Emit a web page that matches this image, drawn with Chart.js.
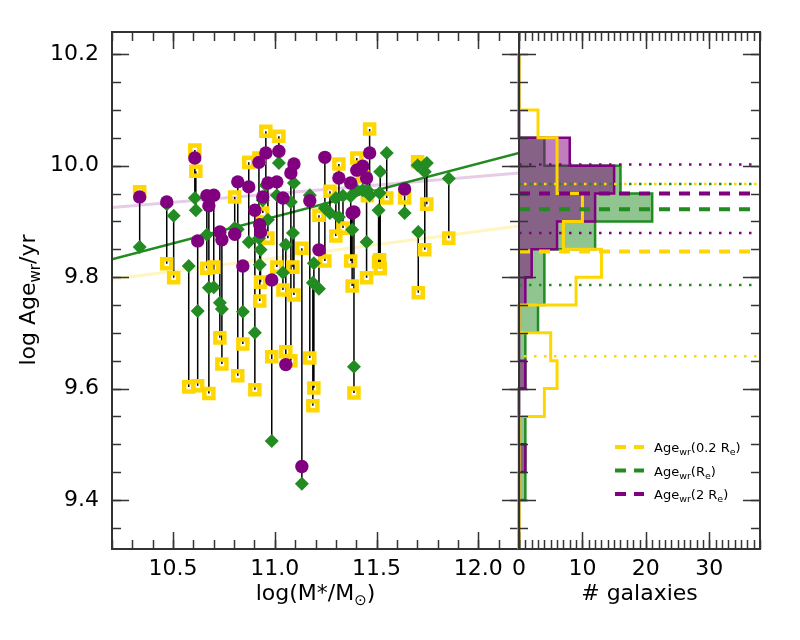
<!DOCTYPE html>
<html>
<head>
<meta charset="utf-8">
<script src="https://cdn.jsdelivr.net/npm/chart.js@4.4.0/dist/chart.umd.min.js"></script>
<style>
  body { margin: 0; background: #fff; }
  #wrap { position: relative; width: 800px; height: 640px; }
  #wrap canvas { position: absolute; left: 0; top: 0; }
</style>
</head>
<body>
<div id="wrap">
  <canvas id="massChart" width="800" height="640"></canvas>
  <canvas id="histChart" width="800" height="640"></canvas>
</div>
<script>
// ---- data ----
// one entry per galaxy: stellar mass and light-weighted age at 0.2 Re, Re and 2 Re
const galaxyMass = [10.336, 10.469, 10.503, 10.577, 10.607, 10.612, 10.621, 10.666, 10.676, 10.700,
  10.730, 10.740, 10.803, 10.818, 10.843, 10.872, 10.902, 10.922, 10.926, 10.930,
  10.941, 10.956, 10.966, 10.985, 11.010, 11.020, 11.040, 11.054, 11.079, 11.089,
  11.094, 11.133, 11.172, 11.187, 11.192, 11.217, 11.246, 11.271, 11.300, 11.315,
  11.335, 11.373, 11.389, 11.380, 11.403, 11.432, 11.451, 11.455, 11.466, 11.510,
  11.515, 11.518, 11.550, 11.638, 11.702, 11.705, 11.737, 11.747, 11.855];
const ageInner = [9.953, 9.824, 9.799, 9.603, 10.028, 9.990, 9.605, 9.816, 9.591, 9.818,
  9.691, 9.644, 9.944, 9.623, 9.680, 10.006, 9.598, 10.014, 9.757, 9.791,
  9.915, 10.062, 9.870, 9.657, 9.818, 10.053, 9.777, 9.666, 9.650, 9.818,
  9.768, 9.852, 9.655, 9.569, 9.601, 9.911, 9.829, 9.954, 9.874, 10.003,
  9.888, 9.829, 9.592, 9.784, 10.014, 9.980, 9.799, 9.946, 10.066, 9.827,
  9.831, 9.815, 9.942, 9.942, 10.007, 9.772, 9.849, 9.931, 9.870];
const ageRe = [9.854, 9.931, 9.910, 9.820, 9.942, 9.920, 9.739, 9.876, 9.781, 9.782,
  9.754, 9.743, 9.888, 9.886, 9.738, 9.863, 9.700, 9.870, 9.822, 9.849,
  9.938, 9.965, 9.903, 9.506, 9.947, 10.005, 9.808, 9.858, 9.935, 9.879,
  9.969, 9.429, 9.947, 9.790, 9.825, 9.779, 9.924, 9.915, 9.942, 9.908,
  9.946, 9.945, 9.639, 9.885, 9.956, 9.956, 9.863, 9.956, 9.947, 9.920,
  9.951, 9.989, 10.023, 9.915, 10.001, 9.881, 9.989, 10.005, 9.977];
const ageOuter = [9.944, 9.935, null, null, 10.014, null, 9.865, 9.946, 9.928, 9.947,
  9.881, 9.867, 9.877, 9.971, 9.820, 9.962, 9.920, 10.006, 9.894, 9.881,
  9.944, 10.023, 9.969, 9.795, 9.971, 10.026, 9.942, 9.643, 9.987, null,
  10.003, 9.460, 9.937, null, null, 9.849, 10.015, null, null, 9.978,
  null, 9.969, 9.917, 9.915, 9.992, 9.999, 9.978, null, 10.023, null,
  null, null, null, 9.958, null, null, null, null, null];

// linear fits (age vs mass), evaluated at the panel edges
const fitMass = [10.2, 12.2];
const fitInner = [9.796, 9.892];
const fitRe = [9.832, 10.023];
const fitOuter = [9.925, 9.987];

// age histograms (bins of 0.05 dex, bottom to top)
const binEdges = [9.30, 9.35, 9.40, 9.45, 9.50, 9.55, 9.60, 9.65, 9.70, 9.75,
  9.80, 9.85, 9.90, 9.95, 10.00, 10.05, 10.10, 10.15, 10.20];
const countsInner = [0, 0, 0, 0, 0, 4, 6, 5, 0, 9, 13, 7, 10, 6, 6, 3, 0, 0];
const countsRe =    [0, 0, 1, 1, 1, 0, 1, 1, 3, 4, 4, 12, 21, 16, 4, 0, 0, 0];
const countsOuter = [0, 0, 0, 1, 0, 0, 1, 0, 0, 1, 2, 6, 12, 15, 8, 0, 0, 0];

// central value (dashed) and lower / upper spread (dotted) for 0.2 Re, Re, 2 Re
const centralAge = [9.846, 9.922, 9.950];
const lowerAge = [9.658, 9.786, 9.879];
const upperAge = [9.967, 9.967, 10.002];

const massTicks = [10.5, 11.0, 11.5, 12.0];
const ageTicks = [9.4, 9.6, 9.8, 10.0, 10.2];
const countTicks = [0, 10, 20, 30];
const radiusLabels = ['0.2 ', '', '2 '];

// ---- styling ----
const FONT = '"DejaVu Sans", sans-serif';
const GOLD = '#FFD700';
const GREEN = '#228B22';
const PURPLE = '#800080';
const seriesColors = [GOLD, GREEN, PURPLE];
const AGE_MIN = 9.312, AGE_MAX = 10.24;
const COUNT_MAX = 38;

Chart.defaults.font.family = FONT;

function drawRich(ctx, parts, x, y, size, subSize, subDrop, align) {
    let w = 0;
    parts.forEach(([t, sub]) => {
        ctx.font = (sub ? subSize : size) + 'px ' + FONT;
        w += ctx.measureText(t).width;
    });
    let cx = align === 'center' ? x - w / 2 : x;
    ctx.textAlign = 'left';
    ctx.textBaseline = 'alphabetic';
    parts.forEach(([t, sub]) => {
        ctx.font = (sub ? subSize : size) + 'px ' + FONT;
        ctx.fillText(t, cx, y + (sub ? subDrop : 0));
        cx += ctx.measureText(t).width;
    });
}

// frame with inward ticks on all four sides
const framePlugin = {
    id: 'frame',
    afterDraw(chart, args, opts) {
        const { ctx, chartArea: a, scales: { x, y } } = chart;
        ctx.save();
        ctx.strokeStyle = '#333';
        ctx.lineWidth = 1.5;
        const seg = (x1, y1, x2, y2) => { ctx.beginPath(); ctx.moveTo(x1, y1); ctx.lineTo(x2, y2); ctx.stroke(); };
        const xTick = (v, len) => {
            const p = Math.round(x.getPixelForValue(v)) + 0.5;
            seg(p, a.bottom, p, a.bottom - len);
            seg(p, a.top, p, a.top + len);
        };
        const yTick = (v, len) => {
            const p = Math.round(y.getPixelForValue(v)) + 0.5;
            seg(a.left, p, a.left + len, p);
            seg(a.right, p, a.right - len, p);
        };
        for (let i = Math.ceil(x.min / opts.xMinor - 1e-6); i * opts.xMinor <= x.max + 1e-9; i++) xTick(i * opts.xMinor, 9);
        for (let i = Math.ceil(y.min / opts.yMinor - 1e-6); i * opts.yMinor <= y.max + 1e-9; i++) yTick(i * opts.yMinor, 9);
        opts.xMajor.forEach(v => xTick(v, 17));
        opts.yMajor.forEach(v => yTick(v, 17));
        ctx.lineWidth = 2;
        ctx.strokeRect(a.left, a.top, a.right - a.left, a.bottom - a.top);
        ctx.restore();
    }
};

const massTitles = {
    id: 'massTitles',
    afterDraw(chart) {
        const { ctx, chartArea: a } = chart;
        ctx.save();
        ctx.fillStyle = '#000';
        drawRich(ctx, [['log(M*/M', false], ['\u2299', true], [')', false]], (a.left + a.right) / 2, 600, 22, 15, 5, 'center');
        ctx.translate(35, 300);
        ctx.rotate(-Math.PI / 2);
        drawRich(ctx, [['log Age', false], ['wr', true], ['/yr', false]], 0, 0, 22, 15, 5, 'center');
        ctx.restore();
    }
};

const histTitles = {
    id: 'histTitles',
    afterDraw(chart) {
        const { ctx, chartArea: a } = chart;
        ctx.save();
        ctx.fillStyle = '#000';
        drawRich(ctx, [['# galaxies', false]], (a.left + a.right) / 2, 600, 22, 15, 5, 'center');
        // legend
        radiusLabels.forEach((r, i) => {
            const rowY = 447 + i * 23.5;
            ctx.strokeStyle = seriesColors[i];
            ctx.lineWidth = 4;
            ctx.setLineDash([11, 8]);
            ctx.beginPath();
            ctx.moveTo(615, rowY);
            ctx.lineTo(644, rowY);
            ctx.stroke();
            ctx.setLineDash([]);
            drawRich(ctx, [['Age', false], ['wr', true], ['(' + r + 'R', false], ['e', true], [')', false]],
                654, rowY + 5, 13, 9.5, 3, 'left');
        });
        ctx.restore();
    }
};

// ---- left panel: age vs mass ----
const pts = ages => galaxyMass.map((m, i) => ({ x: m, y: ages[i] }));
const connectorPoints = [];
galaxyMass.forEach((m, i) => {
    const vals = [ageInner[i], ageRe[i], ageOuter[i]].filter(v => v !== null);
    connectorPoints.push({ x: m, y: Math.min(...vals) }, { x: m, y: Math.max(...vals) }, { x: m, y: null });
});
const fitLine = fit => fitMass.map((m, i) => ({ x: m, y: fit[i] }));

const tickFont = { family: FONT, size: 22 };

new Chart(document.getElementById('massChart'), {
    type: 'scatter',
    data: {
        datasets: [
            { data: pts(ageOuter), pointStyle: 'circle', pointRadius: 6.7, backgroundColor: PURPLE, borderWidth: 0, order: 1 },
            { data: pts(ageRe), pointStyle: 'rectRot', pointRadius: 7, backgroundColor: GREEN, borderWidth: 0, order: 2 },
            { data: pts(ageInner), pointStyle: 'rect', pointRadius: 6.4, backgroundColor: 'rgba(0,0,0,0)', borderColor: GOLD, borderWidth: 4.5, order: 3 },
            { data: connectorPoints, showLine: true, spanGaps: false, borderColor: '#000', borderWidth: 1.5, pointRadius: 0, order: 4 },
            { data: fitLine(fitRe), showLine: true, borderColor: GREEN, borderWidth: 2.5, pointRadius: 0, order: 5 },
            { data: fitLine(fitOuter), showLine: true, borderColor: 'rgba(128,0,128,0.2)', borderWidth: 3, pointRadius: 0, order: 6 },
            { data: fitLine(fitInner), showLine: true, borderColor: 'rgba(255,215,0,0.25)', borderWidth: 3, pointRadius: 0, order: 7 }
        ]
    },
    options: {
        responsive: false,
        animation: false,
        devicePixelRatio: 1,
        layout: { padding: { left: 0, right: 281, top: 32, bottom: 0 } },
        plugins: {
            legend: { display: false },
            tooltip: { enabled: false },
            frame: { xMajor: massTicks, xMinor: 0.1, yMajor: ageTicks, yMinor: 0.05 }
        },
        scales: {
            x: {
                type: 'linear', min: 10.2, max: 12.2,
                grid: { display: false, drawTicks: false }, border: { display: false },
                afterBuildTicks: s => { s.ticks = massTicks.map(v => ({ value: v })); },
                afterFit: s => { s.height = 91; },
                ticks: { font: tickFont, color: '#000', padding: 7, maxRotation: 0, autoSkip: false, callback: v => v.toFixed(1) }
            },
            y: {
                type: 'linear', min: AGE_MIN, max: AGE_MAX,
                grid: { display: false, drawTicks: false }, border: { display: false },
                afterBuildTicks: s => { s.ticks = ageTicks.map(v => ({ value: v })); },
                afterFit: s => { s.width = 112; },
                ticks: { font: tickFont, color: '#000', padding: 13, autoSkip: false, callback: v => v.toFixed(1) }
            }
        }
    },
    plugins: [framePlugin, massTitles]
});

// ---- right panel: age histograms ----
function stepShape(counts) {
    const shape = [{ x: 0, y: binEdges[0] }];
    counts.forEach((c, i) => { shape.push({ x: c, y: binEdges[i] }, { x: c, y: binEdges[i + 1] }); });
    shape.push({ x: 0, y: binEdges[binEdges.length - 1] });
    return shape;
}
const hline = v => [{ x: 0, y: v }, { x: COUNT_MAX, y: v }];
const histClip = { left: 4, top: 0, right: 0, bottom: 0 };

const refLines = [];
centralAge.forEach((v, i) => refLines.push({
    data: hline(v), showLine: true, pointRadius: 0, borderColor: seriesColors[i], borderWidth: 4,
    borderDash: [11, 9], borderCapStyle: 'butt', order: 3 - i
}));
[lowerAge, upperAge].forEach(arr => arr.forEach((v, i) => refLines.push({
    data: hline(v), showLine: true, pointRadius: 0, borderColor: seriesColors[i], borderWidth: 2.5,
    borderDash: [2.5, 7.5], borderDashOffset: i === 0 ? 5 : 0, borderCapStyle: 'butt', order: 4 + i
})));

new Chart(document.getElementById('histChart'), {
    type: 'scatter',
    data: {
        datasets: refLines.concat([
            { data: stepShape(countsInner), showLine: true, pointRadius: 0, borderColor: GOLD, borderWidth: 3,
              borderJoinStyle: 'miter', fill: false, clip: histClip, order: 10 },
            { data: stepShape(countsOuter), showLine: true, pointRadius: 0, borderColor: PURPLE, borderWidth: 2.5,
              backgroundColor: 'rgba(128,0,128,0.5)', borderJoinStyle: 'miter', fill: 'shape', clip: histClip, order: 11 },
            { data: stepShape(countsRe), showLine: true, pointRadius: 0, borderColor: GREEN, borderWidth: 2.5,
              backgroundColor: 'rgba(34,139,34,0.5)', borderJoinStyle: 'miter', fill: 'shape', clip: histClip, order: 12 }
        ])
    },
    options: {
        responsive: false,
        animation: false,
        devicePixelRatio: 1,
        layout: { padding: { left: 519, right: 40, top: 32, bottom: 0 } },
        plugins: {
            legend: { display: false },
            tooltip: { enabled: false },
            frame: { xMajor: countTicks, xMinor: 1, yMajor: ageTicks, yMinor: 0.05 }
        },
        scales: {
            x: {
                type: 'linear', min: 0, max: COUNT_MAX,
                grid: { display: false, drawTicks: false }, border: { display: false },
                afterBuildTicks: s => { s.ticks = countTicks.map(v => ({ value: v })); },
                afterFit: s => { s.height = 91; },
                ticks: { font: tickFont, color: '#000', padding: 7, maxRotation: 0, autoSkip: false, callback: v => String(v) }
            },
            y: { type: 'linear', min: AGE_MIN, max: AGE_MAX, display: false }
        }
    },
    plugins: [framePlugin, histTitles]
});
</script>
</body>
</html>
